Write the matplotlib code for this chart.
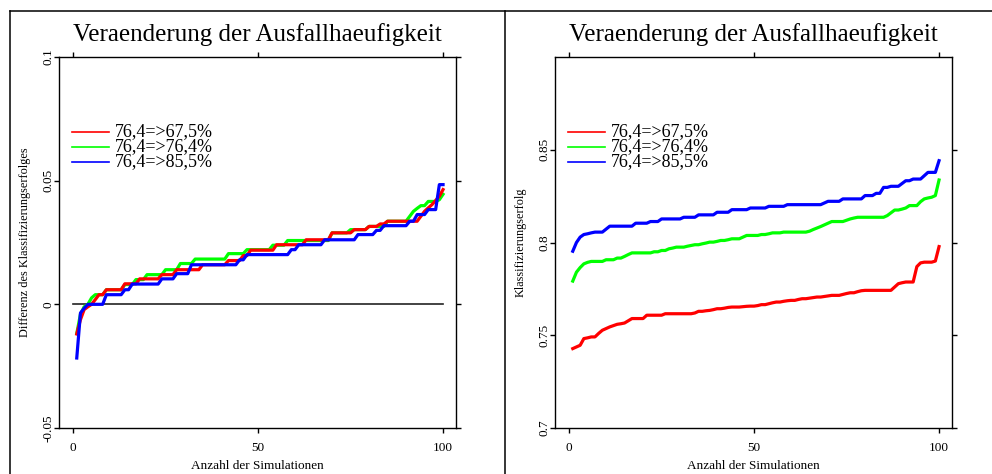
import numpy as np
import matplotlib
matplotlib.use('Agg')
import matplotlib.pyplot as plt
from matplotlib.lines import Line2D

plt.rcParams['font.family'] = ['Liberation Serif', 'DejaVu Serif']

sims = np.arange(1, 101)
labels = ['76,4=>67,5%', '76,4=>76,4%', '76,4=>85,5%']
colors = ['#ff0000', '#00ff00', '#0000ff']

# left panel: sorted differences of classification success
diff_red = [
    -0.0120, -0.0062, -0.0021, -0.0010, 0.0, 0.0019, 0.0039, 0.0039, 0.0059, 0.0059,
    0.0059, 0.0059, 0.0059, 0.0083, 0.0083, 0.0083, 0.0083, 0.0103, 0.0103, 0.0103,
    0.0103, 0.0103, 0.0103, 0.0120, 0.0120, 0.0120, 0.0120, 0.0140, 0.0140, 0.0140,
    0.0140, 0.0140, 0.0140, 0.0140, 0.0160, 0.0160, 0.0160, 0.0160, 0.0160, 0.0160,
    0.0160, 0.0177, 0.0177, 0.0177, 0.0177, 0.0197, 0.0197, 0.0219, 0.0219, 0.0219,
    0.0219, 0.0219, 0.0219, 0.0219, 0.0241, 0.0241, 0.0241, 0.0241, 0.0241, 0.0241,
    0.0241, 0.0241, 0.0261, 0.0261, 0.0261, 0.0261, 0.0261, 0.0261, 0.0261, 0.0289,
    0.0289, 0.0289, 0.0289, 0.0289, 0.0289, 0.0302, 0.0302, 0.0302, 0.0302, 0.0315,
    0.0315, 0.0315, 0.0325, 0.0325, 0.0336, 0.0336, 0.0336, 0.0336, 0.0336, 0.0336,
    0.0336, 0.0336, 0.0336, 0.0356, 0.0376, 0.0390, 0.0403, 0.0420, 0.0437, 0.0464,
]
diff_green = [
    -0.0118, -0.0040, -0.0010, 0.0, 0.0026, 0.0039, 0.0039, 0.0039, 0.0059, 0.0059,
    0.0059, 0.0059, 0.0059, 0.0080, 0.0080, 0.0080, 0.0100, 0.0100, 0.0100, 0.0120,
    0.0120, 0.0120, 0.0120, 0.0120, 0.0140, 0.0140, 0.0140, 0.0140, 0.0165, 0.0165,
    0.0165, 0.0165, 0.0183, 0.0183, 0.0183, 0.0183, 0.0183, 0.0183, 0.0183, 0.0183,
    0.0183, 0.0205, 0.0205, 0.0205, 0.0205, 0.0205, 0.0221, 0.0221, 0.0221, 0.0221,
    0.0221, 0.0221, 0.0221, 0.0239, 0.0239, 0.0239, 0.0239, 0.0258, 0.0258, 0.0258,
    0.0258, 0.0258, 0.0258, 0.0258, 0.0258, 0.0258, 0.0258, 0.0258, 0.0258, 0.0289,
    0.0289, 0.0289, 0.0289, 0.0289, 0.0302, 0.0302, 0.0302, 0.0302, 0.0302, 0.0315,
    0.0315, 0.0315, 0.0315, 0.0315, 0.0336, 0.0336, 0.0336, 0.0336, 0.0336, 0.0336,
    0.0356, 0.0376, 0.0388, 0.0399, 0.0399, 0.0416, 0.0416, 0.0416, 0.0423, 0.0445,
]
diff_blue = [
    -0.0217, -0.0035, -0.0016, 0.0, 0.0, 0.0, 0.0, 0.0, 0.0039, 0.0039,
    0.0039, 0.0039, 0.0039, 0.0059, 0.0059, 0.0082, 0.0082, 0.0082, 0.0082, 0.0082,
    0.0082, 0.0082, 0.0082, 0.0103, 0.0103, 0.0103, 0.0103, 0.0124, 0.0124, 0.0124,
    0.0124, 0.0160, 0.0160, 0.0160, 0.0160, 0.0160, 0.0160, 0.0160, 0.0160, 0.0160,
    0.0160, 0.0160, 0.0160, 0.0160, 0.0180, 0.0180, 0.0201, 0.0201, 0.0201, 0.0201,
    0.0201, 0.0201, 0.0201, 0.0201, 0.0201, 0.0201, 0.0201, 0.0201, 0.0221, 0.0221,
    0.0241, 0.0241, 0.0241, 0.0241, 0.0241, 0.0241, 0.0241, 0.0261, 0.0261, 0.0261,
    0.0261, 0.0261, 0.0261, 0.0261, 0.0261, 0.0261, 0.0282, 0.0282, 0.0282, 0.0282,
    0.0282, 0.0299, 0.0299, 0.0318, 0.0318, 0.0318, 0.0318, 0.0318, 0.0318, 0.0318,
    0.0336, 0.0336, 0.0363, 0.0363, 0.0363, 0.0383, 0.0383, 0.0383, 0.0484, 0.0484,
]

# right panel: sorted classification success
acc_red = [
    0.7428, 0.7437, 0.7446, 0.7482, 0.7486, 0.7491, 0.7491, 0.7510, 0.7527, 0.7536,
    0.7545, 0.7552, 0.7559, 0.7562, 0.7566, 0.7578, 0.7590, 0.7590, 0.7590, 0.7590,
    0.7608, 0.7608, 0.7608, 0.7608, 0.7608, 0.7616, 0.7616, 0.7616, 0.7616, 0.7616,
    0.7616, 0.7616, 0.7616, 0.7620, 0.7629, 0.7629, 0.7632, 0.7634, 0.7638, 0.7643,
    0.7643, 0.7646, 0.7650, 0.7652, 0.7652, 0.7652, 0.7654, 0.7656, 0.7657, 0.7657,
    0.7660, 0.7665, 0.7665, 0.7670, 0.7675, 0.7679, 0.7679, 0.7683, 0.7686, 0.7688,
    0.7688, 0.7693, 0.7697, 0.7697, 0.7700, 0.7703, 0.7706, 0.7706, 0.7709, 0.7712,
    0.7715, 0.7715, 0.7715, 0.7720, 0.7725, 0.7729, 0.7729, 0.7735, 0.7740, 0.7742,
    0.7742, 0.7742, 0.7742, 0.7742, 0.7742, 0.7742, 0.7742, 0.7760, 0.7778, 0.7783,
    0.7787, 0.7787, 0.7787, 0.7870, 0.7890, 0.7894, 0.7894, 0.7894, 0.7900, 0.7978,
]
acc_green = [
    0.7792, 0.7840, 0.7865, 0.7885, 0.7893, 0.7898, 0.7898, 0.7898, 0.7898, 0.7907,
    0.7907, 0.7907, 0.7916, 0.7916, 0.7925, 0.7935, 0.7944, 0.7944, 0.7944, 0.7944,
    0.7944, 0.7944, 0.7950, 0.7950, 0.7957, 0.7957, 0.7966, 0.7970, 0.7975, 0.7975,
    0.7975, 0.7980, 0.7984, 0.7988, 0.7988, 0.7993, 0.7997, 0.8002, 0.8002, 0.8006,
    0.8011, 0.8011, 0.8015, 0.8020, 0.8020, 0.8020, 0.8029, 0.8038, 0.8038, 0.8038,
    0.8038, 0.8043, 0.8043, 0.8047, 0.8052, 0.8052, 0.8052, 0.8056, 0.8056, 0.8056,
    0.8056, 0.8056, 0.8056, 0.8056, 0.8061, 0.8070, 0.8078, 0.8086, 0.8095, 0.8104,
    0.8113, 0.8113, 0.8113, 0.8113, 0.8120, 0.8127, 0.8132, 0.8136, 0.8136, 0.8136,
    0.8136, 0.8136, 0.8136, 0.8136, 0.8136, 0.8145, 0.8160, 0.8175, 0.8175, 0.8180,
    0.8186, 0.8199, 0.8199, 0.8199, 0.8220, 0.8235, 0.8240, 0.8244, 0.8253, 0.8337,
]
acc_blue = [
    0.7953, 0.8000, 0.8029, 0.8043, 0.8047, 0.8052, 0.8056, 0.8056, 0.8056, 0.8072,
    0.8088, 0.8088, 0.8088, 0.8088, 0.8088, 0.8088, 0.8088, 0.8104, 0.8104, 0.8104,
    0.8104, 0.8113, 0.8113, 0.8113, 0.8127, 0.8127, 0.8127, 0.8127, 0.8127, 0.8127,
    0.8136, 0.8136, 0.8136, 0.8136, 0.8149, 0.8149, 0.8149, 0.8149, 0.8149, 0.8163,
    0.8163, 0.8163, 0.8163, 0.8177, 0.8177, 0.8177, 0.8177, 0.8177, 0.8186, 0.8186,
    0.8186, 0.8186, 0.8186, 0.8195, 0.8195, 0.8195, 0.8195, 0.8195, 0.8204, 0.8204,
    0.8204, 0.8204, 0.8204, 0.8204, 0.8204, 0.8204, 0.8204, 0.8204, 0.8213, 0.8222,
    0.8222, 0.8222, 0.8222, 0.8235, 0.8235, 0.8235, 0.8235, 0.8235, 0.8235, 0.8253,
    0.8253, 0.8253, 0.8265, 0.8265, 0.8297, 0.8297, 0.8303, 0.8303, 0.8303, 0.8318,
    0.8333, 0.8333, 0.8342, 0.8342, 0.8342, 0.8360, 0.8378, 0.8378, 0.8378, 0.8441,
]

x_ticks = [0, 50, 100]
x_ticklabels = ['0', '50', '100']
left_yticks = [-0.05, 0, 0.05, 0.1]
left_yticklabels = ['-0.05', '0', '0.05', '0.1']
right_yticks = [0.7, 0.75, 0.8, 0.85]
right_yticklabels = ['0.7', '0.75', '0.8', '0.85']

title = 'Veraenderung der Ausfallhaeufigkeit'
xlabel = 'Anzahl der Simulationen'

W, H = 992, 474
fig = plt.figure(figsize=(W / 100, H / 100), dpi=100)


def px_box(left, top, right, bottom):
    return [left / W, 1 - bottom / H, (right - left) / W, (bottom - top) / H]


ax1 = fig.add_axes(px_box(59, 57, 456, 428))
ax2 = fig.add_axes(px_box(555, 57, 952, 428))


def style(ax, yticks, yticklabels, ylim, ylabel):
    ax.set_xlim(-3.8, 103.5)
    ax.set_ylim(*ylim)
    ax.set_xticks(x_ticks)
    ax.set_xticklabels(x_ticklabels)
    ax.set_yticks(yticks)
    ax.set_yticklabels(yticklabels, rotation=90, va='center')
    ax.tick_params(direction='out', length=3.8, width=1.0, top=True, right=True,
                   labelsize=9.5, colors='black')
    ax.tick_params(axis='x', pad=6)
    ax.tick_params(axis='y', pad=-0.5)
    for sp in ax.spines.values():
        sp.set_linewidth(1.0)
    ax.set_xlabel(xlabel, fontsize=9.5)
    ax.xaxis.set_label_coords(0.5, (428 - 466) / 371)
    ax.xaxis.label.set_va('center')
    ax.set_ylabel(ylabel, fontsize=8.8)
    ax.yaxis.set_label_coords(-0.086, 0.5)
    ax.yaxis.label.set_va('center')
    ax.text(0.5, (428 - 35) / 371, title, transform=ax.transAxes,
            ha='center', va='center', fontsize=18)
    # legend as in the original, lines with text beside them
    for i, (lab, col) in enumerate(zip(labels, colors)):
        yy = (428 - (132 + 15 * i)) / 371
        ax.add_line(Line2D([0.033, 0.126], [yy, yy], transform=ax.transAxes,
                           color=col, lw=1.2))
        ax.text(0.141, yy, lab, transform=ax.transAxes, ha='left',
                va='center', fontsize=13)


# left panel
style(ax1, left_yticks, left_yticklabels, (-0.05, 0.1),
      'Differenz des Klassifizierungserfolges')
ax1.plot([0, 100], [0, 0], color='#222222', lw=1.2)
ax1.plot(sims, diff_green, color=colors[1], lw=2.3)
ax1.plot(sims, diff_red, color=colors[0], lw=2.3)
ax1.plot(sims, diff_blue, color=colors[2], lw=2.3)

# right panel
style(ax2, right_yticks, right_yticklabels, (0.7, 0.9), 'Klassifizierungserfolg')
ax2.plot(sims, acc_red, color=colors[0], lw=2.3)
ax2.plot(sims, acc_green, color=colors[1], lw=2.3)
ax2.plot(sims, acc_blue, color=colors[2], lw=2.3)

# outer frame of the page
for xs, ys in [([10, W], [11, 11]), ([10, 10], [11, H]), ([505.5, 505.5], [11, H])]:
    fig.add_artist(Line2D([x / W for x in xs], [1 - y / H for y in ys],
                          transform=fig.transFigure, color='black', lw=1.1))

fig.savefig('out.png', dpi=100)
